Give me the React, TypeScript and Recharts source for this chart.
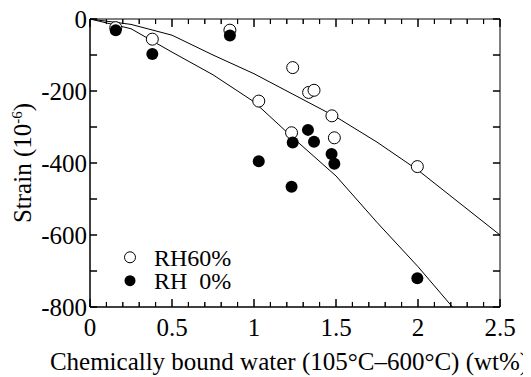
import { Label, Scatter, ScatterChart, XAxis, YAxis } from "recharts";

// RH60% measured points (x: bound water wt%, y: strain 1e-6)
const rh60X = [0.157, 0.38, 0.853, 1.029, 1.229, 1.236, 1.333, 1.366, 1.475, 1.49, 1.996];
const rh60Y = [-24, -56, -31, -228, -316, -135, -204, -198, -269, -330, -410];

// RH 0% measured points
const rh0X = [0.157, 0.38, 0.853, 1.029, 1.229, 1.236, 1.329, 1.366, 1.473, 1.49, 1.996];
const rh0Y = [-31, -97, -46, -395, -466, -343, -308, -341, -375, -402, -720];

// fitted curves
const fit60X = [0, 0.25, 0.5, 0.75, 1.0, 1.25, 1.5, 1.75, 2.0, 2.25, 2.5];
const fit60Y = [0, -15, -45, -100, -152, -212, -272, -342, -420, -510, -600];
const fit0X = [0, 0.25, 0.5, 0.75, 1.0, 1.25, 1.5, 1.75, 2.0, 2.21];
const fit0Y = [0, -27, -92, -155, -230, -335, -436, -565, -688, -800];

const xTicks = [
  0, 0.1, 0.2, 0.3, 0.4, 0.5, 0.6, 0.7, 0.8, 0.9, 1, 1.1, 1.2, 1.3, 1.4, 1.5, 1.6, 1.7, 1.8, 1.9,
  2, 2.1, 2.2, 2.3, 2.4, 2.5,
];
const xLabelTicks = [0, 0.5, 1, 1.5, 2, 2.5];
const yTicks = [0, -100, -200, -300, -400, -500, -600, -700, -800];
const yLabelTicks = [0, -200, -400, -600, -800];

const legendNames = ["RH60%", "RH  0%"];

const X_MIN = 0;
const X_MAX = 2.5;
const Y_MIN = -800;
const Y_MAX = 0;
// inward tick lengths in data units (~8px / ~5px / ~7px)
const X_MAJOR_LEN = 22;
const X_MINOR_LEN = 14;
const Y_TICK_LEN = 0.043;

const toPoints = (xs: number[], ys: number[]) => xs.map((x, i) => ({ x, y: ys[i] }));

// zig-zag along an edge: edge line plus an inward tick at each tick value
const xEdge = (edgeY: number, dir: number) =>
  xTicks.flatMap((t) => {
    const len = xLabelTicks.includes(t) ? X_MAJOR_LEN : X_MINOR_LEN;
    return [
      { x: t, y: edgeY },
      { x: t, y: edgeY + dir * len },
      { x: t, y: edgeY },
    ];
  });
const yEdge = (edgeX: number, dir: number) =>
  yTicks.flatMap((t) => [
    { x: edgeX, y: t },
    { x: edgeX + dir * Y_TICK_LEN, y: t },
    { x: edgeX, y: t },
  ]);

const FONT = "Liberation Serif";
const txt = { fontFamily: FONT, fontSize: 25 };

const bottomTick = ({ x, y, payload }: any) =>
  xLabelTicks.includes(payload.value) ? (
    <text x={x} y={y + 29} textAnchor="middle" fill="#000" style={txt}>
      {payload.value}
    </text>
  ) : (
    <g />
  );

const leftTick = ({ x, y, payload }: any) =>
  yLabelTicks.includes(payload.value) ? (
    <text x={x - 3} y={y} dy="0.35em" textAnchor="end" fill="#000" style={txt}>
      {payload.value}
    </text>
  ) : (
    <g />
  );

function YTitle({ viewBox }: any) {
  const cx = 23;
  const cy = viewBox.y + viewBox.height / 2;
  return (
    <text x={cx} y={cy} transform={`rotate(-90 ${cx} ${cy})`} textAnchor="middle" fill="#000" style={txt}>
      Strain (10
      <tspan dy={-9} style={{ fontSize: 15 }}>
        -6
      </tspan>
      <tspan dy={9}>)</tspan>
    </text>
  );
}

function XTitle({ viewBox }: any) {
  return (
    <text x={viewBox.x + viewBox.width / 2 - 6} y={362} textAnchor="middle" fill="#000" style={txt}>
      Chemically bound water (105°C–600°C) (wt%)
    </text>
  );
}

function LegendBox() {
  return (
    <svg width={150} height={52} style={{ position: "absolute", left: 110, top: 236, overflow: "visible" }}>
      <circle cx={12} cy={13.3} r={5.5} fill="#fff" stroke="#000" />
      <text x={36} y={21.7} fill="#000" style={{ fontFamily: FONT, fontSize: 24, whiteSpace: "pre" }}>
        {legendNames[0]}
      </text>
      <circle cx={12} cy={36.7} r={5.5} fill="#000" />
      <text x={36} y={45.3} fill="#000" style={{ fontFamily: FONT, fontSize: 24, whiteSpace: "pre" }}>
        {legendNames[1]}
      </text>
    </svg>
  );
}

const openDot = (p: any) => <circle cx={p.cx} cy={p.cy} r={6} fill="#fff" stroke="#000" strokeWidth={1} />;
const filledDot = (p: any) => <circle cx={p.cx} cy={p.cy} r={6} fill="#000" />;
const noDot = () => <g />;

const blackLine = { stroke: "#000", strokeWidth: 1 };

export default function App() {
  return (
    <div style={{ fontFamily: FONT, position: "relative", width: 523, height: 369 }}>
      <ScatterChart width={523} height={369} margin={{ top: 11, right: 31, bottom: 0, left: 0 }}>
        <XAxis
          type="number"
          dataKey="x"
          domain={[X_MIN, X_MAX]}
          ticks={xTicks}
          interval={0}
          height={70}
          tickSize={0}
          tickMargin={0}
          tickLine={false}
          axisLine={{ stroke: "#000" }}
          tick={bottomTick}
        >
          <Label content={<XTitle />} />
        </XAxis>
        <YAxis
          type="number"
          dataKey="y"
          domain={[Y_MIN, Y_MAX]}
          ticks={yTicks}
          interval={0}
          width={82}
          tickSize={0}
          tickMargin={0}
          tickLine={false}
          axisLine={{ stroke: "#000" }}
          tick={leftTick}
        >
          <Label content={<YTitle />} />
        </YAxis>

        {/* frame edges with inward ticks */}
        <Scatter data={xEdge(Y_MIN, 1)} line={blackLine} shape={noDot} legendType="none" isAnimationActive={false} />
        <Scatter data={xEdge(Y_MAX, -1)} line={blackLine} shape={noDot} legendType="none" isAnimationActive={false} />
        <Scatter data={yEdge(X_MIN, 1)} line={blackLine} shape={noDot} legendType="none" isAnimationActive={false} />
        <Scatter data={yEdge(X_MAX, -1)} line={blackLine} shape={noDot} legendType="none" isAnimationActive={false} />

        <Scatter
          data={toPoints(fit60X, fit60Y)}
          line={blackLine}
          lineType="joint"
          shape={noDot}
          legendType="none"
          isAnimationActive={false}
        />
        <Scatter
          data={toPoints(fit0X, fit0Y)}
          line={blackLine}
          lineType="joint"
          shape={noDot}
          legendType="none"
          isAnimationActive={false}
        />
        <Scatter name={legendNames[0]} data={toPoints(rh60X, rh60Y)} shape={openDot} isAnimationActive={false} />
        <Scatter name={legendNames[1]} data={toPoints(rh0X, rh0Y)} shape={filledDot} isAnimationActive={false} />
      </ScatterChart>
      <LegendBox />
    </div>
  );
}
